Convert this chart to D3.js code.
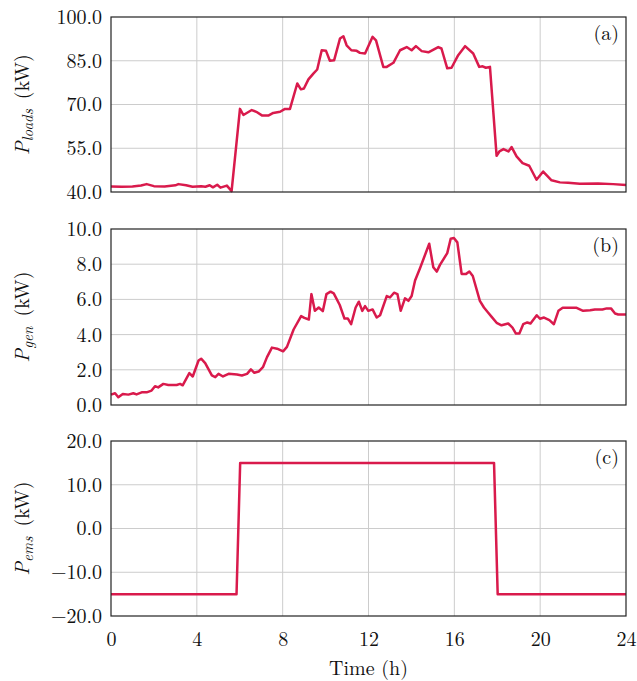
<!DOCTYPE html>
<html><head><meta charset="utf-8">
<script src="https://cdn.jsdelivr.net/npm/d3@7"></script>
<style>body{margin:0;background:#fff}svg{display:block}</style>
</head><body>
<svg id="chart" width="637" height="681"></svg>
<script>
// ---- data ----
const loadsT = [0,0.5,1.0,1.4,1.66,2.0,2.5,3.0,3.14,3.5,3.8,4.2,4.4,4.6,4.75,4.95,5.1,5.4,5.62,6.01,6.17,6.56,6.77,7.05,7.33,7.56,7.88,8.11,8.34,8.68,8.85,8.99,9.2,9.43,9.61,9.82,10.02,10.2,10.4,10.67,10.83,10.98,11.2,11.45,11.6,11.84,12.19,12.35,12.69,12.85,13.16,13.47,13.78,14.01,14.21,14.48,14.79,15.25,15.4,15.67,15.87,16.18,16.5,16.88,17.16,17.32,17.47,17.66,17.97,18.1,18.29,18.52,18.67,18.9,19.18,19.49,19.83,20.14,20.53,20.92,21.3,21.85,22.7,23.4,24];
const loadsV = [41.9,41.8,41.9,42.2,42.7,42.0,41.9,42.3,42.7,42.3,41.8,42.0,41.8,42.3,41.6,42.5,41.5,42.2,40.3,68.5,66.4,68.1,67.5,66.2,66.2,67.1,67.5,68.5,68.5,77.2,75.2,75.5,78.6,80.6,82.0,88.6,88.4,85.0,85.2,92.6,93.4,90.3,88.6,88.4,87.7,87.5,93.2,92.0,82.9,82.9,84.3,88.6,89.7,88.6,90.0,88.3,87.9,89.7,89.2,82.4,82.6,86.9,90.0,87.5,82.9,83.1,82.6,82.9,52.4,53.9,54.7,53.9,55.4,52.2,49.9,49.0,44.2,47.0,44.0,43.3,43.2,42.8,42.9,42.7,42.4];

const genT = [0,0.19,0.34,0.55,0.81,1.04,1.19,1.43,1.66,1.89,2.05,2.2,2.44,2.67,3.06,3.22,3.34,3.65,3.81,4.08,4.2,4.39,4.7,4.86,5.01,5.22,5.48,5.87,6.1,6.34,6.52,6.68,6.88,7.08,7.27,7.5,7.74,8.02,8.2,8.51,8.86,9.01,9.22,9.34,9.5,9.68,9.87,10.04,10.23,10.38,10.66,10.88,11.04,11.19,11.4,11.55,11.71,11.84,11.99,12.19,12.38,12.54,12.85,13.0,13.19,13.35,13.5,13.7,13.86,14.01,14.17,14.4,14.83,15.02,15.18,15.33,15.67,15.83,15.98,16.14,16.34,16.55,16.7,16.86,17.19,17.38,17.58,17.74,17.97,18.2,18.51,18.71,18.87,19.03,19.21,19.4,19.55,19.84,19.99,20.18,20.43,20.64,20.85,21.05,21.7,22.0,22.33,22.55,22.9,23.1,23.3,23.49,23.64,24.0];
const genV = [0.59,0.67,0.44,0.63,0.59,0.67,0.6,0.72,0.72,0.82,1.07,1.0,1.2,1.14,1.14,1.2,1.12,1.81,1.62,2.53,2.63,2.38,1.68,1.58,1.77,1.62,1.77,1.73,1.68,1.77,2.02,1.83,1.9,2.15,2.72,3.26,3.2,3.05,3.3,4.29,5.05,4.95,4.86,6.3,5.35,5.54,5.33,6.3,6.44,6.34,5.68,4.91,4.91,4.59,5.54,5.87,5.35,5.62,5.35,5.43,4.97,5.1,6.19,6.11,6.38,6.3,5.35,6.06,5.92,6.19,7.07,7.77,9.16,7.83,7.58,7.96,8.63,9.45,9.49,9.24,7.45,7.45,7.58,7.33,5.92,5.54,5.24,5.01,4.67,4.53,4.63,4.4,4.06,4.06,4.59,4.69,4.63,5.1,4.9,4.97,4.82,4.59,5.35,5.52,5.52,5.35,5.38,5.43,5.43,5.49,5.49,5.2,5.14,5.14];

const emsT = [0,5.85,6.02,17.85,18.02,24];
const emsV = [-15,-15,15,15,-15,-15];

const xTicks = [0,4,8,12,16,20,24];
const loadsTicks = [40,55,70,85,100];
const genTicks = [0,2,4,6,8,10];
const emsTicks = [-20,-10,0,10,20];

const panels = [
  {t: loadsT, v: loadsV, dom: [40,100], ticks: loadsTicks, sub: "loads", tag: "(a)", top: 17, bottom: 192},
  {t: genT, v: genV, dom: [0,10], ticks: genTicks, sub: "gen", tag: "(b)", top: 229, bottom: 405},
  {t: emsT, v: emsV, dom: [-20,20], ticks: emsTicks, sub: "ems", tag: "(c)", top: 441, bottom: 616}
];

// ---- drawing ----
const svg = d3.select("#chart");
const FONT = "'Latin Modern Roman','CMU Serif','Liberation Serif','Times New Roman',serif";
const FS = 20;
const L = 111, R = 626;
const color = "#d91a4c";
const x = d3.scaleLinear().domain([0,24]).range([L,R]);
const fmtY = d => (d < 0 ? "\u2212" + Math.abs(d).toFixed(1) : d.toFixed(1));

panels.forEach((p, i) => {
  const y = d3.scaleLinear().domain(p.dom).range([p.bottom, p.top]);
  const g = svg.append("g");
  // grid
  g.append("g").selectAll("line.v").data(xTicks.slice(1,-1)).join("line")
    .attr("x1", d => x(d)).attr("x2", d => x(d)).attr("y1", p.top).attr("y2", p.bottom)
    .attr("stroke", "#cccccc").attr("stroke-width", 1);
  g.append("g").selectAll("line.h").data(p.ticks.slice(1,-1)).join("line")
    .attr("x1", L).attr("x2", R).attr("y1", d => y(d)).attr("y2", d => y(d))
    .attr("stroke", "#cccccc").attr("stroke-width", 1);
  // y tick labels
  const yAxis = d3.axisLeft(y).tickValues(p.ticks).tickFormat(fmtY).tickSize(0).tickPadding(9);
  const ya = g.append("g").attr("transform", `translate(${L},0)`).call(yAxis);
  ya.select(".domain").remove();
  ya.selectAll("text").attr("font-family", FONT).attr("font-size", FS).attr("fill", "#111");
  // line
  const data = p.t.map((t, k) => [t, p.v[k]]);
  g.append("path").datum(data)
    .attr("fill", "none").attr("stroke", color).attr("stroke-width", 2.5)
    .attr("stroke-linejoin", "round")
    .attr("d", d3.line().x(d => x(d[0])).y(d => y(d[1])));
  // frame
  g.append("rect").attr("x", L).attr("y", p.top).attr("width", R - L).attr("height", p.bottom - p.top)
    .attr("fill", "none").attr("stroke", "#222").attr("stroke-width", 1.2);
  // tag
  g.append("text").attr("x", 619).attr("y", p.top + 23).attr("text-anchor", "end")
    .attr("font-family", FONT).attr("font-size", FS).attr("fill", "#111").text(p.tag);
  // y label
  const cy = (p.top + p.bottom) / 2;
  const lab = g.append("text").attr("transform", `translate(29,${cy}) rotate(-90)`)
    .attr("text-anchor", "middle").attr("font-family", FONT).attr("font-size", FS).attr("fill", "#111");
  lab.append("tspan").attr("font-style", "italic").text("P");
  lab.append("tspan").attr("font-style", "italic").attr("font-size", 15).attr("dy", 4).text(p.sub);
  lab.append("tspan").attr("dy", -4).text("\u2002(kW)");
  // x axis labels on bottom panel
  if (i === 2) {
    const xAxis = d3.axisBottom(x).tickValues(xTicks).tickSize(0).tickPadding(16).tickFormat(d3.format("d"));
    const xa = g.append("g").attr("transform", `translate(0,${p.bottom})`).call(xAxis);
    xa.select(".domain").remove();
    xa.selectAll("text").attr("font-family", FONT).attr("font-size", FS).attr("fill", "#111");
    g.append("text").attr("x", (L + R) / 2).attr("y", 675).attr("text-anchor", "middle")
      .attr("font-family", FONT).attr("font-size", FS).attr("fill", "#111").text("Time (h)");
  }
});
</script>
</body></html>
